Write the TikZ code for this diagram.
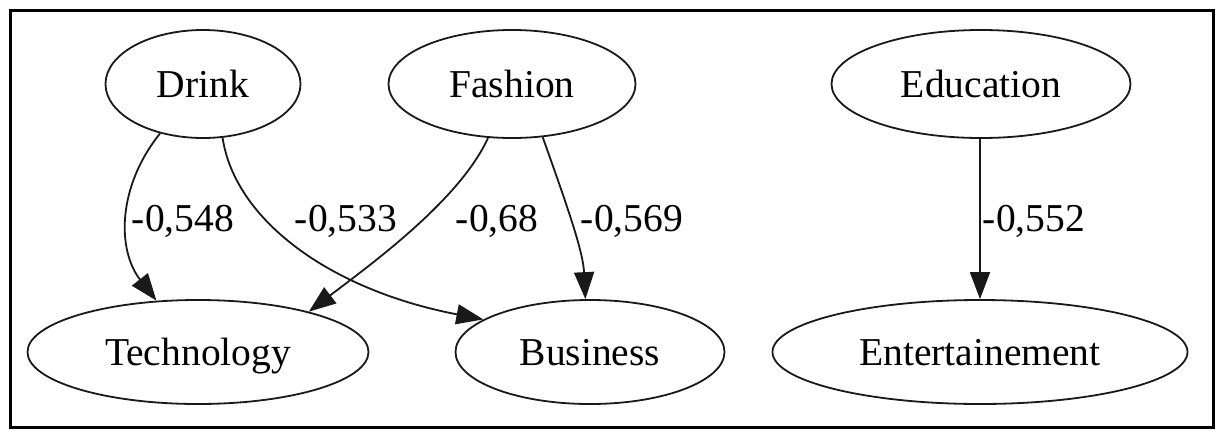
\documentclass[tikz,border=0pt]{standalone}
\usepackage{fontspec}
\setmainfont{Liberation Serif}
\usetikzlibrary{shapes.geometric,arrows.meta}
\begin{document}
\begin{tikzpicture}[x=1pt,y=-1pt,
  ell/.style={ellipse,draw=black!90,line width=1.8pt,inner sep=0pt,text height=26pt,text depth=0pt,font=\fontsize{39.5}{40}\selectfont,text=black},
  lbl/.style={inner sep=0pt,text height=26pt,text depth=0pt,font=\fontsize{39.5}{40}\selectfont,text=black},
  conn/.style={draw=black!90,line width=1.8pt,-{Triangle[length=27pt,width=20pt]}}]
\useasboundingbox (0,0) rectangle (1216,432);
\node[draw=black,line width=3pt,minimum width=1203pt,minimum height=417pt,inner sep=0pt] (frame) at (611.5,218.5) {};
% nodes
\node[ell,minimum width=195pt,minimum height=108pt] (Drink) at (203,84) {Drink};
\node[ell,minimum width=247pt,minimum height=108pt] (Fashion) at (512,84) {Fashion};
\node[ell,minimum width=299pt,minimum height=108pt] (Education) at (981,84) {Education};
\node[ell,minimum width=341pt,minimum height=104pt] (Technology) at (198,352) {Technology};
\node[ell,minimum width=269pt,minimum height=104pt] (Business) at (590,352) {Business};
\node[ell,minimum width=415pt,minimum height=104pt] (Entertainement) at (980,352) {Entertainement};
% connectors
\draw[conn] (Drink.229) .. controls (117,187) and (117,250) .. (Technology.129);
\draw[conn] (Drink.290) .. controls (235,220) and (330,290) .. (Business.163);
\draw[conn] (Fashion.246) .. controls (460,200) and (370,265) .. (Technology.20);
\draw[conn] (Fashion.300) .. controls (565,200) and (583,250) .. (Business.95);
\draw[conn] (Education.south -| Entertainement.north) -- (Entertainement.north);
% labels
\node[lbl] (l1) at (183,218) {-0,548};
\node[lbl] (l2) at (346,218) {-0,533};
\node[lbl] (l3) at (497,218) {-0,68};
\node[lbl] (l4) at (632,218) {-0,569};
\node[lbl] (l5) at (1034,218) {-0,552};
\end{tikzpicture}
\end{document}
